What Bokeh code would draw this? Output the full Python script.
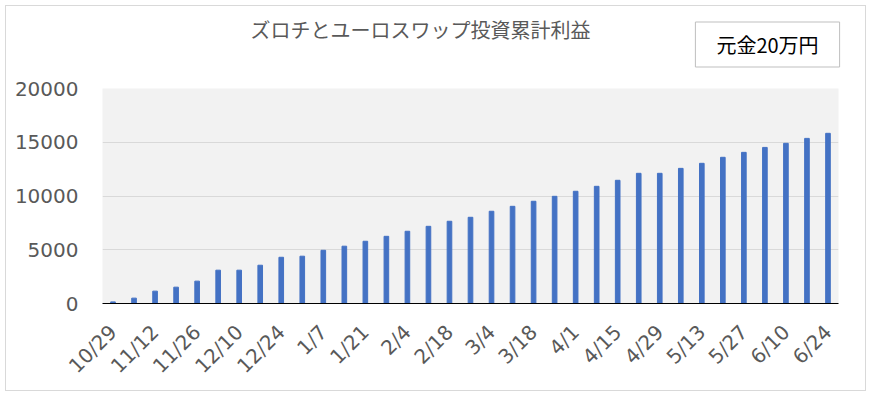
import math
from bokeh.plotting import figure
from bokeh.models import Label, FixedTicker, Range1d
from bokeh.embed import file_html
from bokeh.resources import INLINE

TITLE = 'ズロチとユーロスワップ投資累計利益'
NOTE = '元金20万円'

weeks = ['10/29', '11/5', '11/12', '11/19', '11/26', '12/3', '12/10',
         '12/17', '12/24', '12/31', '1/7', '1/14', '1/21', '1/28', '2/4',
         '2/11', '2/18', '2/25', '3/4', '3/11', '3/18', '3/25', '4/1',
         '4/8', '4/15', '4/22', '4/29', '5/6', '5/13', '5/20', '5/27',
         '6/3', '6/10', '6/17', '6/24']
profit = [150, 500, 1150, 1520, 2080, 3100, 3100, 3560, 4300, 4400,
          4950, 5330, 5790, 6250, 6720, 7180, 7650, 8020, 8580, 9040,
          9510, 9970, 10440, 10900, 11460, 12110, 12110, 12570, 13040,
          13600, 14060, 14520, 14900, 15360, 15830]
y_ticks = [0, 5000, 10000, 15000, 20000]

pos = list(range(len(weeks)))

p = figure(width=871, height=396,
           output_backend="svg", toolbar_location=None,
           min_border_left=102, min_border_right=33,
           min_border_top=88, min_border_bottom=93,
           background_fill_color='#f2f2f2', border_fill_color=None,
           outline_line_color=None,
           styles={'outline': '1px solid #d9d9d9', 'outline-offset': '-6px'})
p.x_range = Range1d(-0.5, len(weeks) - 0.5)
p.y_range = Range1d(0, 20000)

p.title.text = TITLE
p.title.align = 'left'
p.title.vertical_align = 'bottom'
p.title.offset = 148
p.title.standoff = 0
p.title.text_font = 'Noto Sans CJK JP'
p.title.text_font_size = '20px'
p.title.text_font_style = 'normal'
p.title.text_color = '#595959'

p.vbar(x=pos, top=profit, width=0.22, color='#4472C4')

p.xgrid.grid_line_color = None
p.ygrid.grid_line_color = '#d9d9d9'
p.ygrid.ticker = FixedTicker(ticks=y_ticks)

p.yaxis.ticker = FixedTicker(ticks=y_ticks)
p.yaxis.axis_line_color = None
p.yaxis.major_tick_line_color = None
p.yaxis.minor_tick_line_color = None
p.yaxis.major_label_standoff = 18
p.yaxis.major_label_text_font = 'DejaVu Sans'
p.yaxis.major_label_text_font_size = '20px'
p.yaxis.major_label_text_color = '#595959'

# only every other week gets a label
p.xaxis.ticker = FixedTicker(ticks=pos[::2])
p.xaxis.major_label_overrides = {i: weeks[i] for i in pos[::2]}
p.xaxis.axis_line_color = 'black'
p.xaxis.major_tick_line_color = None
p.xaxis.minor_tick_line_color = None
p.xaxis.major_label_orientation = math.pi / 4
p.xaxis.major_label_standoff = 19
p.xaxis.major_label_text_font = 'DejaVu Sans'
p.xaxis.major_label_text_font_size = '20px'
p.xaxis.major_label_text_color = '#595959'

# boxed note in the top right corner; kept in the top panel so it is not
# clipped to the frame, positioned in canvas pixels
note = Label(x=767, y=44, x_units='canvas', y_units='canvas',
             text=NOTE,
             text_align='center', text_baseline='middle',
             text_font='Noto Sans CJK JP', text_font_size='20px',
             text_color='black', background_fill_color='white',
             border_line_color='#bfbfbf', padding=(21, 8))
p.add_layout(note, 'above')

open("out.html", "w").write(file_html(p, INLINE))
